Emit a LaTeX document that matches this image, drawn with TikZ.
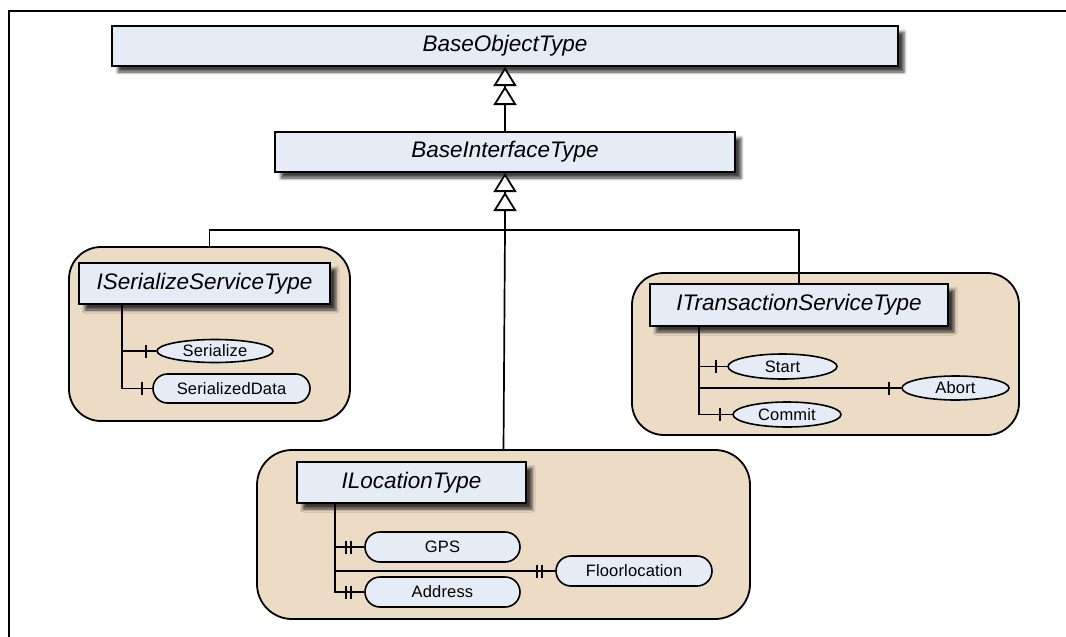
\documentclass[tikz,border=0pt]{standalone}
\usepackage{fontspec}
\setmainfont{Liberation Sans}
\usetikzlibrary{arrows.meta,shapes.geometric,shapes.misc,shadows.blur}
\definecolor{boxfill}{RGB}{230,236,246}
\definecolor{grpfill}{RGB}{236,219,197}
\newcommand\bigtypefont{\fontsize{22.5}{26}\selectfont\itshape}
\newcommand\smallmemberfont{\fontsize{16.5}{19}\selectfont\addfontfeature{LetterSpace=1}}
\newcommand\onetick[2]{\draw[conn] ([xshift=-#2pt,yshift=6.5pt]#1.west) -- ([xshift=-#2pt,yshift=-6.5pt]#1.west);}
\newcommand\twotick[1]{\draw[conn] ([xshift=-13pt,yshift=6.5pt]#1.west) -- ([xshift=-13pt,yshift=-6.5pt]#1.west);
  \draw[conn] ([xshift=-18pt,yshift=6.5pt]#1.west) -- ([xshift=-18pt,yshift=-6.5pt]#1.west);}
\tikzset{
  typebox/.style={draw, line width=2pt, fill=boxfill, rectangle, inner sep=0pt, font=\bigtypefont,
    blur shadow={shadow xshift=6pt, shadow yshift=-6pt, shadow blur radius=3pt, shadow opacity=75}},
  grp/.style={draw, line width=1.8pt, fill=grpfill, rectangle, rounded corners=32pt, inner sep=0pt},
  member/.style={draw, line width=1.6pt, fill=boxfill, ellipse, inner sep=0pt, font=\smallmemberfont},
  field/.style={draw, line width=1.6pt, fill=boxfill, rounded rectangle, inner sep=0pt, font=\smallmemberfont},
  conn/.style={line width=1.7pt},
  inherit/.style={conn, -{Triangle[fill=white, length=19pt, width=23pt, line width=1.8pt] Triangle[fill=white, length=19pt, width=23pt, line width=1.8pt]}}
}
\begin{document}
\begin{tikzpicture}[x=1pt,y=-1pt]
\useasboundingbox (0,0) rectangle (1066,637);
% frame
\draw[line width=2.2pt] (9,637) -- (9,11) -- (1066,11);

% groups
\node[grp, minimum width=281pt, minimum height=174pt] (sercont) at (209.5,334) {};
\node[grp, minimum width=387pt, minimum height=162pt] (trcont) at (825.5,354) {};
\node[grp, rounded corners=35pt, minimum width=493pt, minimum height=169pt] (loccont) at (503.5,534.5) {};

% type boxes
\node[typebox, minimum width=786pt, minimum height=40pt] (bo) at (505,46) {BaseObjectType};
\node[typebox, minimum width=460pt, minimum height=40pt] (bi) at (505,152) {BaseInterfaceType};
\node[typebox, minimum width=251pt, minimum height=41pt] (sbox) at (204.5,283.5) {ISerializeServiceType};
\node[typebox, minimum width=298pt, minimum height=42pt] (tbox) at (799,305) {ITransactionServiceType};
\node[typebox, minimum width=229pt, minimum height=41pt] (lbox) at (411.5,482.5) {ILocationType};

% members
\node[member, minimum width=116pt, minimum height=23pt] (serialize) at (215,351) {Serialize};
\node[field, minimum width=157pt, minimum height=29pt] (serdata) at (231.5,388.5) {SerializedData};
\node[member, minimum width=109pt, minimum height=25pt] (start) at (782.5,366.5) {Start};
\node[member, minimum width=107pt, minimum height=24pt] (abort) at (955.5,388) {Abort};
\node[member, minimum width=108pt, minimum height=25pt] (commit) at (787,414.5) {Commit};
\node[field, minimum width=155pt, minimum height=30pt] (gps) at (442.5,547) {GPS};
\node[field, minimum width=156pt, minimum height=30pt] (floor) at (634,571) {Floorlocation};
\node[field, minimum width=155pt, minimum height=30pt] (address) at (442.5,592) {Address};

% inheritance
\coordinate (junction) at (505,230);
\draw[inherit] (bi.north) -- (bo.south);
\draw[inherit] (junction) -- (bi.south);
\draw[conn] (sercont.north) |- (junction) -| (tbox.north);
\draw[conn] (junction) -- (loccont.north);

% ISerializeServiceType tree
\coordinate (s0) at ([xshift=44pt]sbox.south west);
\draw[conn] (s0) |- (serialize.west);
\draw[conn] (s0) |- (serdata.west);
\onetick{serialize}{10}
\onetick{serdata}{10}

% ITransactionServiceType tree
\coordinate (t0) at ([xshift=50pt]tbox.south west);
\draw[conn] (t0) |- (start.west);
\draw[conn] (t0) |- (abort.west);
\draw[conn] (t0) |- (commit.west);
\onetick{start}{11}
\onetick{abort}{12}
\onetick{commit}{12}

% ILocationType tree
\coordinate (l0) at ([xshift=39pt]lbox.south west);
\draw[conn] (l0) |- (gps.west);
\draw[conn] (l0) |- (floor.west);
\draw[conn] (l0) |- (address.west);
\twotick{gps}
\twotick{floor}
\twotick{address}
\end{tikzpicture}
\end{document}
